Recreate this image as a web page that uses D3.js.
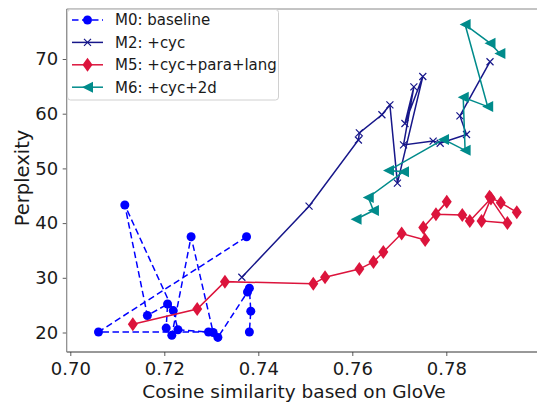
<!DOCTYPE html>
<html>
<head>
<meta charset="utf-8">
<script src="https://cdn.jsdelivr.net/npm/d3@7"></script>
<style>
    body { margin: 0; background: #fff; }
    svg { display: block; font-family: "DejaVu Sans", sans-serif; }
</style>
</head>
<body>
<div class="chart-container"></div>
<script>
// cosine similarity (x) / perplexity (y) per checkpoint, in plot order
const seriesNames = ["M0: baseline", "M2: +cyc", "M5: +cyc+para+lang", "M6: +cyc+2d"];

const m0Sim = [0.7375, 0.7060, 0.7294, 0.7229, 0.7219, 0.7116, 0.7164, 0.7207, 0.7204, 0.7216, 0.7257, 0.7304, 0.7314, 0.7377, 0.7381, 0.7384, 0.7381];
const m0Ppl = [37.5, 20.1, 20.1, 20.5, 24.0, 43.3, 23.1, 25.2, 20.8, 19.5, 37.5, 20.0, 19.1, 27.4, 28.1, 23.9, 20.1];

const m2Sim = [0.7365, 0.7508, 0.7613, 0.7615, 0.7663, 0.7680, 0.7696, 0.7750, 0.7712, 0.7731, 0.7709, 0.7772, 0.7787, 0.7843, 0.7829, 0.7893];
const m2Ppl = [30.1, 43.1, 55.2, 56.5, 59.8, 61.6, 47.3, 66.8, 58.2, 64.9, 54.3, 55.0, 54.6, 56.2, 59.6, 69.5];

const m5Sim = [0.7133, 0.7270, 0.7329, 0.7517, 0.7542, 0.7615, 0.7645, 0.7666, 0.7705, 0.7755, 0.7751, 0.7801, 0.7778, 0.7834, 0.7850, 0.7895, 0.7875, 0.7930, 0.7892, 0.7916, 0.7950];
const m5Ppl = [21.5, 24.3, 29.3, 28.9, 30.1, 31.6, 32.9, 34.7, 38.1, 36.9, 39.2, 43.9, 41.6, 41.5, 40.4, 44.5, 40.4, 40.0, 44.8, 43.7, 42.0];

const m6Sim = [0.7608, 0.7645, 0.7634, 0.7709, 0.7677, 0.7794, 0.7840, 0.7836, 0.7888, 0.7840, 0.7893, 0.7914];
const m6Ppl = [40.7, 42.3, 44.7, 49.4, 49.6, 55.3, 53.3, 63.0, 61.3, 76.3, 72.9, 71.0];

const xTicks = [0.70, 0.72, 0.74, 0.76, 0.78];
const yTicks = [20, 30, 40, 50, 60, 70];
const xLabel = "Cosine similarity based on GloVe";
const yLabel = "Perplexity";

const width = 537, height = 408;
const plotLeft = 66.7, plotTop = 9, plotBottom = 352;

var svg = d3.select(".chart-container")
    .append("svg")
    .attr("width", width)
    .attr("height", height);

var x = d3.scaleLinear().domain([0.70, 0.80]).range([70.3, 540.3]);
var y = d3.scaleLinear().domain([20, 70]).range([332.5, 59]);

function pairs(xs, ys) {
    return xs.map(function (v, i) { return [v, ys[i]]; });
}

var series = [
    {name: seriesNames[0], data: pairs(m0Sim, m0Ppl), color: "#0000ff", dash: "6.5,3.5", marker: "circle"},
    {name: seriesNames[1], data: pairs(m2Sim, m2Ppl), color: "#17178a", dash: null, marker: "x"},
    {name: seriesNames[2], data: pairs(m5Sim, m5Ppl), color: "#dc143c", dash: null, marker: "diamond"},
    {name: seriesNames[3], data: pairs(m6Sim, m6Ppl), color: "#008b8b", dash: null, marker: "triangle"}
];

// marker drawing helper (works for plot and legend)
function drawMarker(g, type, color) {
    if (type === "circle") {
        g.append("circle").attr("r", 4.5).attr("fill", color);
    } else if (type === "x") {
        g.append("path")
            .attr("d", "M-3.5,-3.5L3.5,3.5M-3.5,3.5L3.5,-3.5")
            .attr("stroke", color)
            .attr("stroke-width", 1.2)
            .attr("fill", "none");
    } else if (type === "diamond") {
        g.append("path").attr("d", "M0,-7L5,0L0,7L-5,0Z").attr("fill", color);
    } else if (type === "triangle") {
        g.append("path").attr("d", "M-5.5,0L5.5,-5.5L5.5,5.5Z").attr("fill", color);
    }
}

var line = d3.line()
    .x(function (d) { return x(d[0]); })
    .y(function (d) { return y(d[1]); });

var plot = svg.append("g");

series.forEach(function (s) {
    var g = plot.append("g");
    g.append("path")
        .datum(s.data)
        .attr("d", line)
        .attr("fill", "none")
        .attr("stroke", s.color)
        .attr("stroke-width", 1.5)
        .attr("stroke-dasharray", s.dash);

    g.selectAll(".pt")
        .data(s.data)
        .enter()
        .append("g")
        .attr("transform", function (d) {
            return "translate(" + x(d[0]) + "," + y(d[1]) + ")";
        })
        .each(function () {
            drawMarker(d3.select(this), s.marker, s.color);
        });
});

// axes
var xAxis = svg.append("g")
    .attr("transform", "translate(0," + plotBottom + ")")
    .call(d3.axisBottom(x).tickValues(xTicks).tickFormat(d3.format(".2f")).tickSize(4).tickPadding(6));

var yAxis = svg.append("g")
    .attr("transform", "translate(" + plotLeft + ",0)")
    .call(d3.axisLeft(y).tickValues(yTicks).tickSize(4).tickPadding(4.5));

[xAxis, yAxis].forEach(function (a) {
    a.select(".domain").remove();
    a.selectAll("line").attr("stroke", "#333").attr("stroke-width", 0.8);
    a.selectAll("text")
        .attr("fill", "#1a1a1a")
        .style("font-size", "18px")
        .style("font-family", "DejaVu Sans");
});

// spines
svg.append("line").attr("x1", plotLeft).attr("x2", width).attr("y1", plotTop).attr("y2", plotTop)
    .attr("stroke", "#888").attr("stroke-width", 1);
svg.append("line").attr("x1", plotLeft).attr("x2", width).attr("y1", plotBottom).attr("y2", plotBottom)
    .attr("stroke", "#333").attr("stroke-width", 1);
svg.append("line").attr("x1", plotLeft).attr("x2", plotLeft).attr("y1", plotTop).attr("y2", plotBottom)
    .attr("stroke", "#888").attr("stroke-width", 1.2);

// axis labels
svg.append("text")
    .text(xLabel)
    .attr("x", 294)
    .attr("y", 398)
    .attr("text-anchor", "middle")
    .attr("fill", "#1a1a1a")
    .style("font-size", "18.5px");

svg.append("text")
    .text(yLabel)
    .attr("transform", "translate(28.5,178) rotate(-90)")
    .attr("text-anchor", "middle")
    .attr("fill", "#1a1a1a")
    .style("font-size", "19.5px");

// legend
var legend = svg.append("g");
legend.append("rect")
    .attr("x", 67.5)
    .attr("y", 9.5)
    .attr("width", 211)
    .attr("height", 90.5)
    .attr("rx", 3)
    .attr("fill", "#fff")
    .attr("fill-opacity", 0.8)
    .attr("stroke", "#d0d0d0")
    .attr("stroke-width", 1);

series.forEach(function (s, i) {
    var ly = 20 + i * 22.4;
    var item = legend.append("g");
    item.append("line")
        .attr("x1", 72).attr("x2", 103)
        .attr("y1", ly).attr("y2", ly)
        .attr("stroke", s.color)
        .attr("stroke-width", 1.5)
        .attr("stroke-dasharray", s.dash);
    var m = item.append("g").attr("transform", "translate(87.5," + ly + ")");
    drawMarker(m, s.marker, s.color);
    item.append("text")
        .text(s.name)
        .attr("x", 115)
        .attr("y", ly + 5.4)
        .attr("fill", "#1a1a1a")
        .style("font-size", "15px");
});
</script>
</body>
</html>
